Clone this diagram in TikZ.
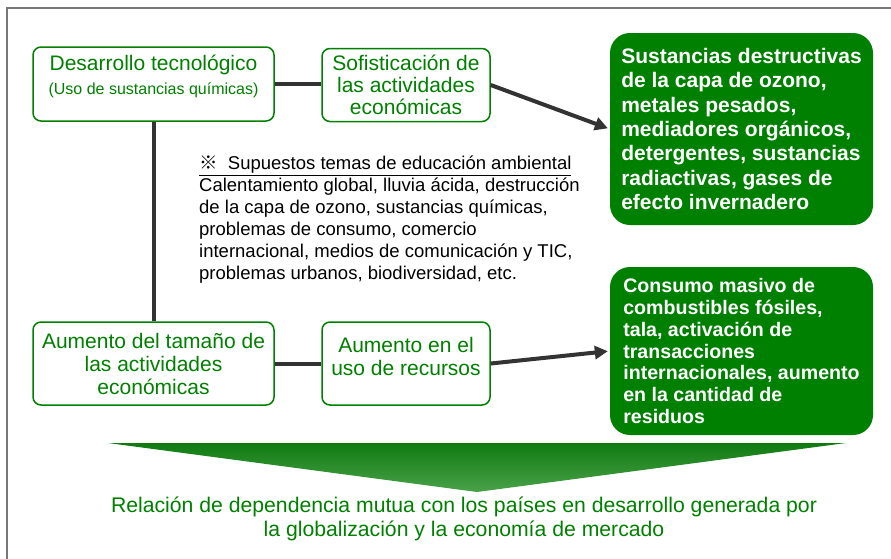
\documentclass[tikz,border=0pt]{standalone}
\usepackage{fontspec}
\setmainfont{Liberation Sans}
\newfontfamily\cjkfont{Noto Sans CJK JP}
\usepackage{tikz}
\usetikzlibrary{arrows.meta}
\definecolor{Verde}{RGB}{0,128,0}
\definecolor{VerdeOsc}{RGB}{16,122,16}
\definecolor{VerdeCla}{RGB}{74,162,74}
\definecolor{Gris}{RGB}{51,51,51}
\definecolor{Marco}{RGB}{120,120,120}
\tikzset{
  caja/.style={rounded corners=8pt,draw=Verde,line width=1.5pt,fill=white,text=Verde,
               align=center,inner sep=2pt,font=\fontsize{21}{23}\selectfont},
  rotulo/.style={text=Verde,align=center,inner sep=2pt,font=\fontsize{21}{23}\selectfont},
  efecto/.style={rounded corners=20pt,fill=Verde,text=white,align=left,inner sep=0pt,
                 minimum width=263pt,font=\bfseries\fontsize{21}{24.3}\selectfont},
  nota/.style={align=left,inner sep=0pt,font=\fontsize{18.5}{21.9}\selectfont},
  union/.style={line width=4pt,Gris},
  flecha/.style={union,-{Triangle[length=13pt,width=13pt]},shorten >=2pt},
}

\begin{document}
\begin{tikzpicture}[x=1pt,y=-1pt]
  \useasboundingbox (0,0) rectangle (891,558);
  \draw[Marco,line width=2pt] (7,560) -- (7,8) -- (893,8);

  \node[caja,minimum width=241pt,minimum height=74pt,
        label={[rotulo,anchor=north,yshift=-7pt]north:{Desarrollo tecnológico\\[1pt]
        {\fontsize{16}{18}\selectfont(Uso de sustancias químicas)}}}] (des) at (153.5,84) {};
  \node[caja,minimum width=168pt,minimum height=73pt,font=\fontsize{21}{22}\selectfont]
        (sof) at (406,85) {Sofisticación de\\las actividades\\económicas};
  \node[caja,minimum width=241pt,minimum height=83pt] (tam) at (153.5,363.5)
        {Aumento del tamaño de\\las actividades\\económicas};
  \node[caja,minimum width=168pt,minimum height=83pt,
        label={[rotulo,anchor=north,yshift=-14pt]north:{Aumento en el\\uso de recursos}}]
        (rec) at (406,363.5) {};

  \node[efecto,minimum height=192pt] (sust) at (741.5,129)
        {Sustancias destructivas\\de la capa de ozono,\\metales pesados,\\mediadores orgánicos,\\detergentes, sustancias\\radiactivas, gases de\\efecto invernadero};
  \node[efecto,minimum height=168pt,font=\bfseries\fontsize{19.6}{21.8}\selectfont] (cons) at (741.5,351)
        {Consumo masivo de\\combustibles fósiles,\\tala, activación de\\transacciones\\internacionales, aumento\\en la cantidad de\\residuos};

  \node[nota,anchor=north west] (temas) at (199,156)
        {\underline{{\cjkfont ※}\ \ Supuestos temas de educación ambiental}\\
         Calentamiento global, lluvia ácida, destrucción\\
         de la capa de ozono, sustancias químicas,\\
         problemas de consumo, comercio\\
         internacional, medios de comunicación y TIC,\\
         problemas urbanos, biodiversidad, etc.};

  \draw[union] (des.east) -- (sof.west |- des.east);
  \draw[union] (des) -- (tam);
  \draw[union] (tam.east) -- (rec.west);
  \draw[flecha] (sof.east) -- (sust.west);
  \draw[flecha] (rec.east) -- (cons.west);

  \shade[top color=VerdeOsc,bottom color=VerdeCla] (108,443) -- (846,443) -- (477,492) -- cycle;
  \node[rotulo,font=\fontsize{21.2}{23.5}\selectfont] (rel) at (464,519)
        {Relación de dependencia mutua con los países en desarrollo generada por\\la globalización y la economía de mercado};
\end{tikzpicture}
\end{document}
